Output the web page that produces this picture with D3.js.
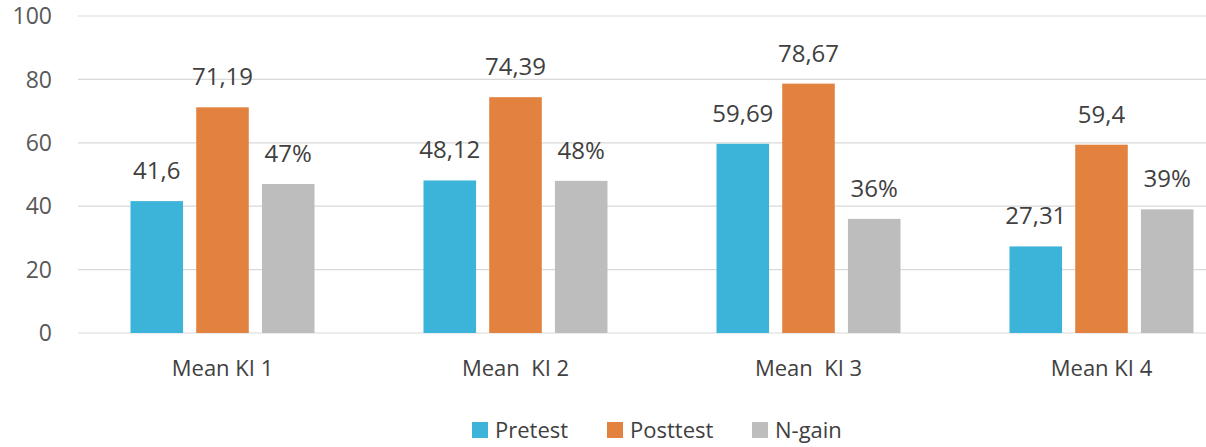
<!DOCTYPE html>
<html><head><meta charset="utf-8">
<script src="https://cdn.jsdelivr.net/npm/d3@7"></script>
<style>body{margin:0;background:#fff}svg{display:block}</style>
</head><body>
<svg id="c" width="1206" height="447"></svg>
<script>
const categories = ["Mean KI 1", "Mean  KI 2", "Mean  KI 3", "Mean KI 4"];
const seriesNames = ["Pretest", "Posttest", "N-gain"];
const pretest = [41.6, 48.12, 59.69, 27.31];
const posttest = [71.19, 74.39, 78.67, 59.4];
const ngain = [47, 48, 36, 39];
const pretestLabels = ["41,6", "48,12", "59,69", "27,31"];
const posttestLabels = ["71,19", "74,39", "78,67", "59,4"];
const ngainLabels = ["47%", "48%", "36%", "39%"];
const yTicks = [0, 20, 40, 60, 80, 100];
const colors = ["#3cb3d9", "#e2823e", "#bdbdbd"];

const series = [
  {name: seriesNames[0], values: pretest, labels: pretestLabels, color: colors[0]},
  {name: seriesNames[1], values: posttest, labels: posttestLabels, color: colors[1]},
  {name: seriesNames[2], values: ngain, labels: ngainLabels, color: colors[2]}
];

const svg = d3.select("#c");
const font = "'Open Sans', 'Noto Sans', sans-serif";
const y = d3.scaleLinear().domain([0, 100]).range([333, 16]);
const x0 = d3.scaleBand().domain(categories).range([76, 1248]).paddingInner(0).paddingOuter(0);
const x1 = d3.scaleBand().domain(seriesNames).range([x0.bandwidth()/2 - 92, x0.bandwidth()/2 + 92]).paddingInner(0.2).paddingOuter(0);

// gridlines
svg.append("g").selectAll("line").data(yTicks).join("line")
  .attr("x1", 78).attr("x2", 1206)
  .attr("y1", d => y(d)).attr("y2", d => y(d))
  .attr("stroke", "#d9d9d9").attr("stroke-width", 1.2);

// y tick labels
svg.append("g").selectAll("text").data(yTicks).join("text")
  .attr("x", 52).attr("y", d => y(d)).attr("dy", "0.36em")
  .attr("text-anchor", "end").attr("font-family", font).attr("font-size", 23)
  .attr("fill", "#595959").text(d => d);

// bars
const groups = svg.append("g").selectAll("g").data(categories).join("g")
  .attr("transform", d => `translate(${x0(d)},0)`);

series.forEach(s => {
  groups.append("rect")
    .attr("x", x1(s.name)).attr("width", x1.bandwidth())
    .attr("y", (d, i) => y(s.values[i]))
    .attr("height", (d, i) => y(0) - y(s.values[i]))
    .attr("fill", s.color);
  groups.append("text")
    .attr("x", x1(s.name) + x1.bandwidth()/2)
    .attr("y", (d, i) => y(s.values[i]) - 22)
    .attr("text-anchor", "middle").attr("font-family", font).attr("font-size", 24)
    .attr("fill", "#404040").text((d, i) => s.labels[i]);
});

// category labels
svg.append("g").selectAll("text").data(categories).join("text")
  .attr("x", d => x0(d) + x0.bandwidth()/2).attr("y", 368).attr("dy", "0.35em")
  .attr("text-anchor", "middle").attr("font-family", font).attr("font-size", 22)
  .attr("fill", "#404040").style("white-space", "pre").attr("xml:space", "preserve")
  .text(d => d);

// legend
const legendX = [472, 607, 752];
const lg = svg.append("g").selectAll("g").data(series).join("g")
  .attr("transform", (d, i) => `translate(${legendX[i]},430)`);
lg.append("rect").attr("x", 0).attr("y", -8).attr("width", 16).attr("height", 16).attr("fill", d => d.color);
lg.append("text").attr("x", 23).attr("y", 0).attr("dy", "0.35em")
  .attr("font-family", font).attr("font-size", 22).attr("fill", "#404040").text(d => d.name);
</script>
</body></html>
